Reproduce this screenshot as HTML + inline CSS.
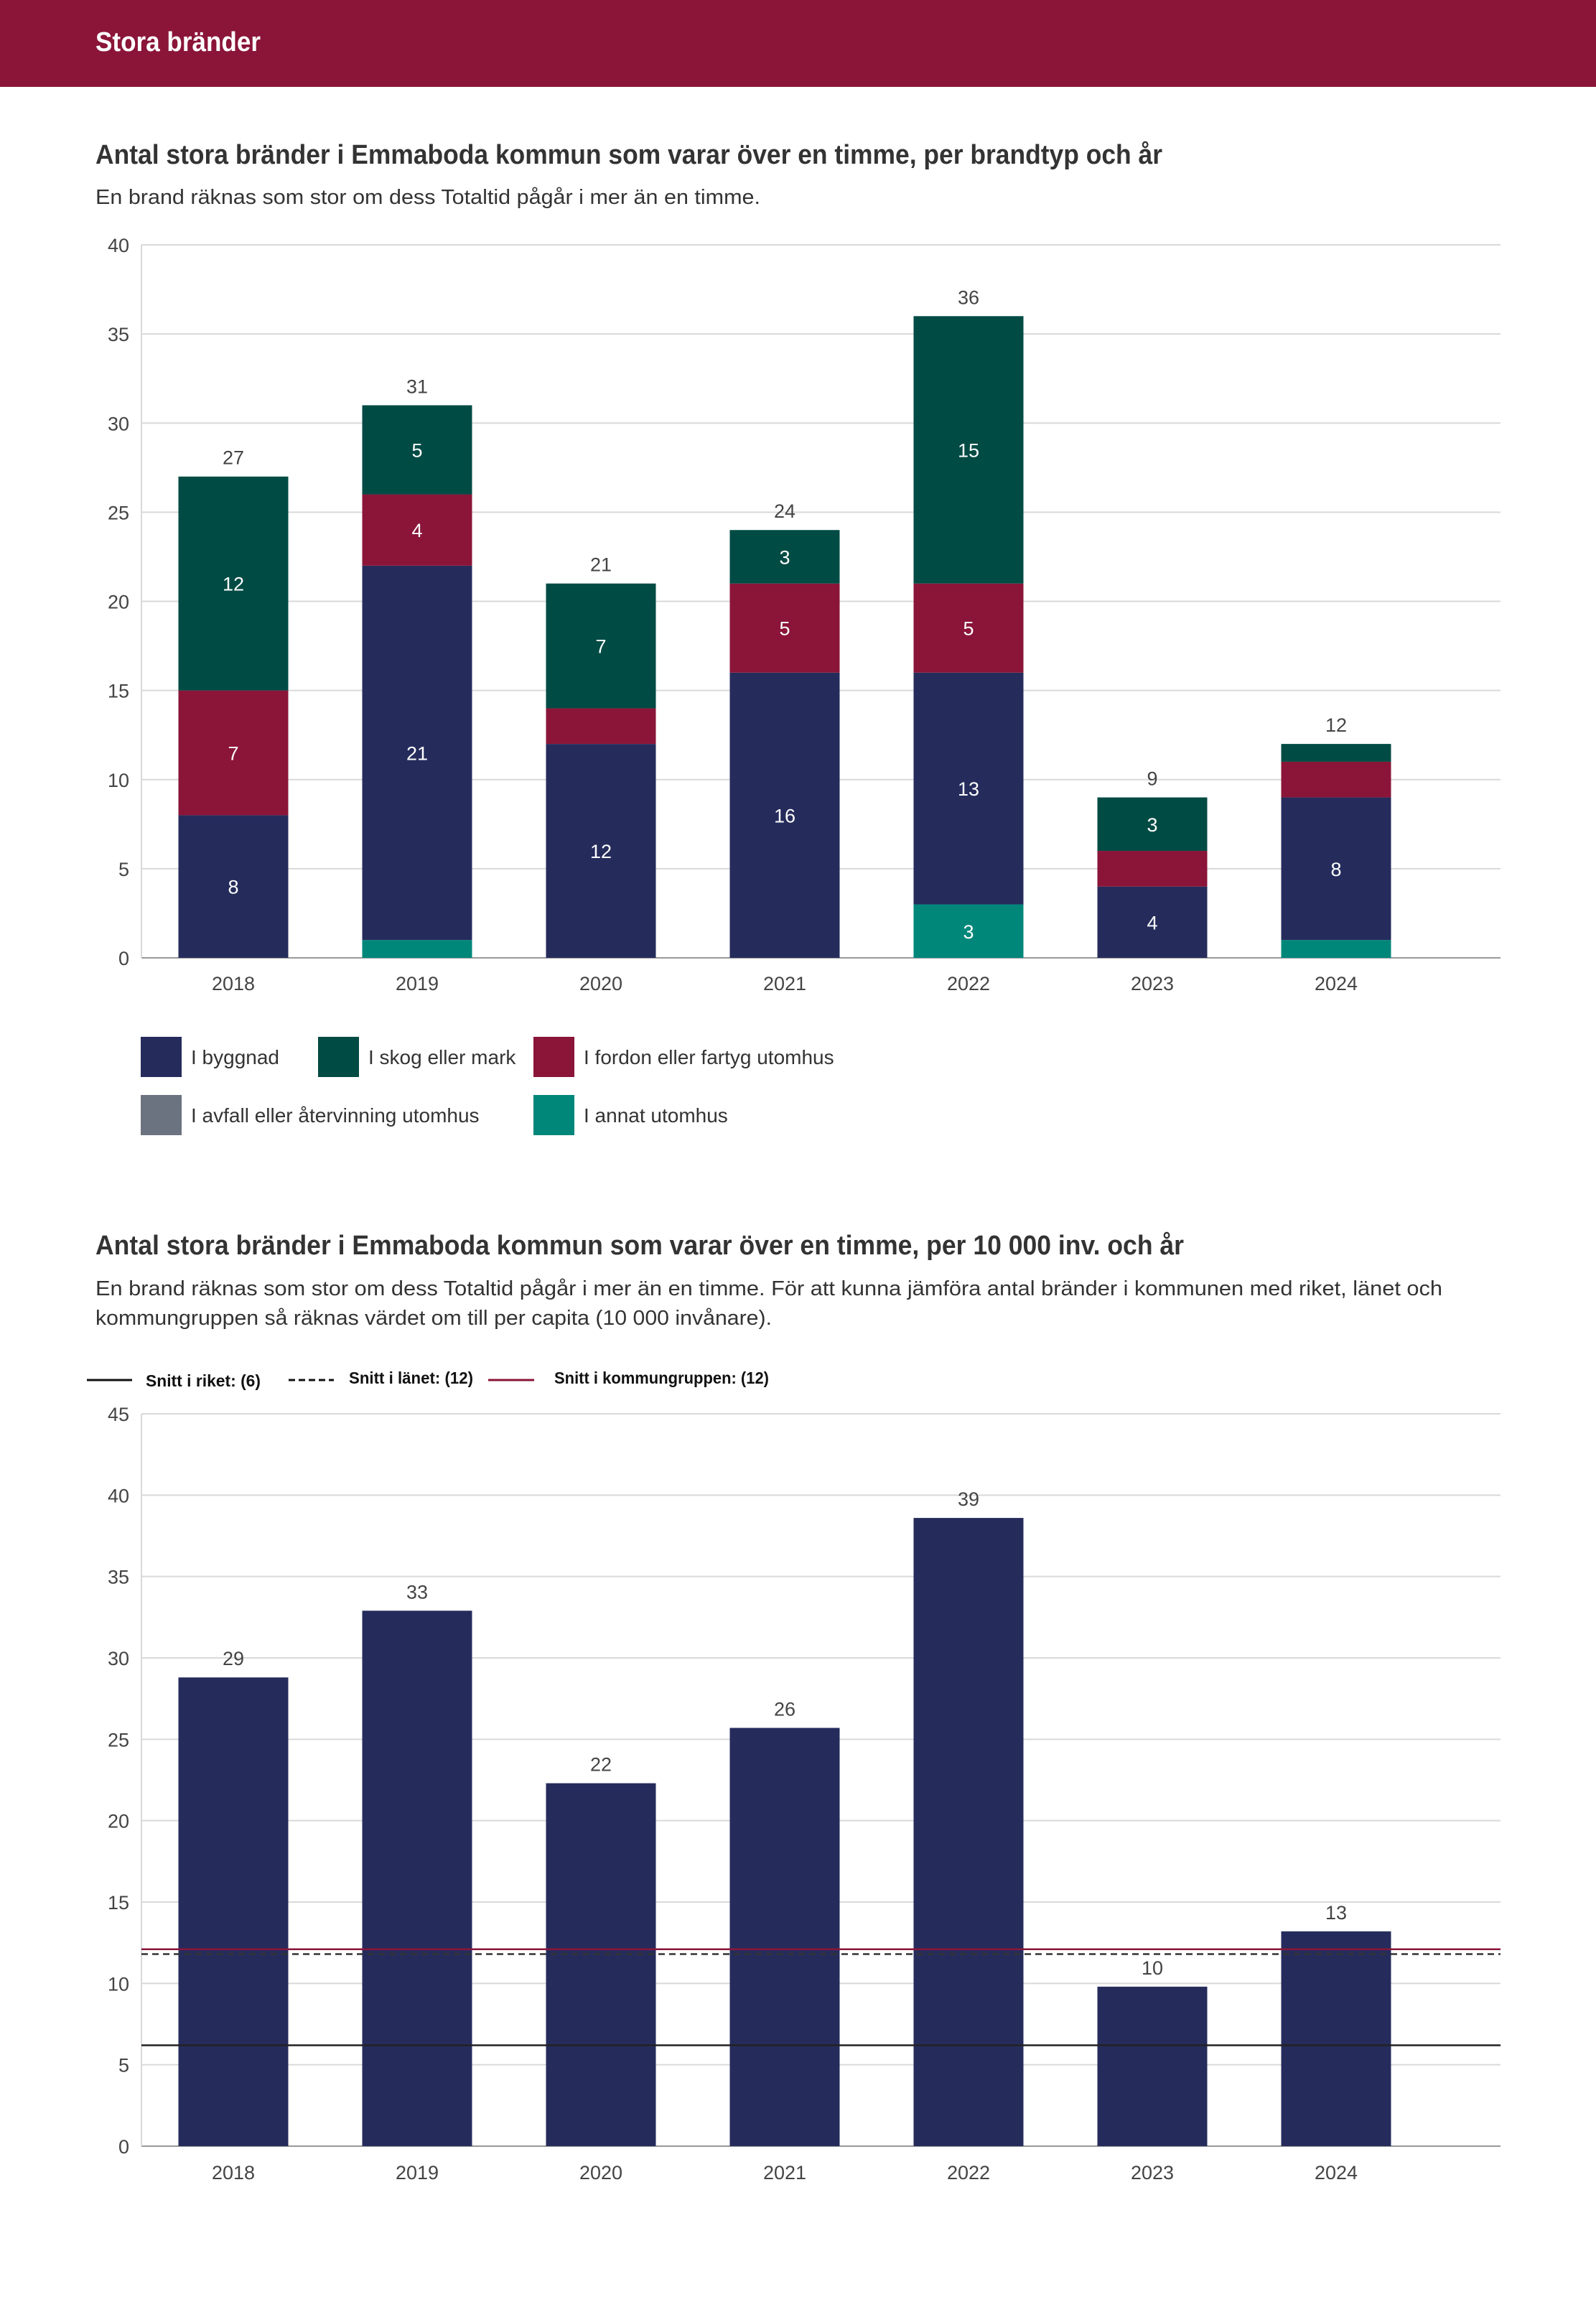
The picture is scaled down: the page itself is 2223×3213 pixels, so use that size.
<!DOCTYPE html>
<html><head><meta charset="utf-8">
<style>
html,body{margin:0;padding:0;background:#fff;}
svg{display:block;font-family:"Liberation Sans",sans-serif;}
</style></head>
<body>
<svg id="root" width="2223" height="3213" viewBox="0 0 2223 3213" xmlns="http://www.w3.org/2000/svg">
<rect x="0" y="0" width="2223" height="121" fill="#8a1538"/>
<text x="133" y="71" font-size="38" font-weight="bold" fill="#fff" textLength="230" lengthAdjust="spacingAndGlyphs">Stora bränder</text>

<text x="133" y="228" font-size="38" font-weight="bold" fill="#333" textLength="1486" lengthAdjust="spacingAndGlyphs">Antal stora bränder i Emmaboda kommun som varar över en timme, per brandtyp och år</text>
<text x="133" y="284" font-size="29" fill="#333" textLength="926" lengthAdjust="spacingAndGlyphs">En brand räknas som stor om dess Totaltid pågår i mer än en timme.</text>
<g id="chart1"></g>
<g id="legend1"></g>

<text x="133" y="1747" font-size="38" font-weight="bold" fill="#333" textLength="1516" lengthAdjust="spacingAndGlyphs">Antal stora bränder i Emmaboda kommun som varar över en timme, per 10 000 inv. och år</text>
<text x="133" y="1804" font-size="29" fill="#333" textLength="1876" lengthAdjust="spacingAndGlyphs">En brand räknas som stor om dess Totaltid pågår i mer än en timme. För att kunna jämföra antal bränder i kommunen med riket, länet och</text>
<text x="133" y="1845" font-size="29" fill="#333" textLength="942" lengthAdjust="spacingAndGlyphs">kommungruppen så räknas värdet om till per capita (10 000 invånare).</text>
<g id="legend2">
<line x1="121" y1="1922" x2="184" y2="1922" stroke="#111" stroke-width="3"/>
<text x="203" y="1931" font-size="23" font-weight="bold" fill="#111" textLength="160" lengthAdjust="spacingAndGlyphs">Snitt i riket: (6)</text>
<line x1="402" y1="1922" x2="465" y2="1922" stroke="#111" stroke-width="3" stroke-dasharray="9,5"/>
<text x="486" y="1927" font-size="23" font-weight="bold" fill="#111" textLength="173" lengthAdjust="spacingAndGlyphs">Snitt i länet: (12)</text>
<line x1="680" y1="1922" x2="744" y2="1922" stroke="#8a1538" stroke-width="3"/>
<text x="772" y="1927" font-size="23" font-weight="bold" fill="#111" textLength="299" lengthAdjust="spacingAndGlyphs">Snitt i kommungruppen: (12)</text>
</g>
<g id="chart2"></g>
</svg>
<script>
const NS="http://www.w3.org/2000/svg";
const years=["2018","2019","2020","2021","2022","2023","2024"];
const byggnad=[8,21,12,16,13,4,8];
const skog=[12,5,7,3,15,3,1];
const fordon=[7,4,2,5,5,2,2];
const avfall=[0,0,0,0,0,0,0];
const annat=[0,1,0,0,3,0,1];
const totals1=[27,31,21,24,36,9,12];
const ticks1=[0,5,10,15,20,25,30,35,40];
const perCapita=[28.8,32.9,22.3,25.7,38.6,9.8,13.2];
const perCapitaLabels=["29","33","22","26","39","10","13"];
const ticks2=[0,5,10,15,20,25,30,35,40,45];
const snittRiket=[6.2];
const snittLanet=[11.8];
const snittKommungrupp=[12.1];

function mk(tag,attrs,parent,text){const e=document.createElementNS(NS,tag);for(const k in attrs)e.setAttribute(k,attrs[k]);if(text!==undefined)e.textContent=text;parent.appendChild(e);return e;}

const plotL=197, plotR=2090, band=256, barW=153;
function xc(i){return plotL+band*i+band/2;}

// Chart 1
const c1=document.getElementById('chart1');
const y1=v=>1334-v*(1334-341)/40;
ticks1.forEach(t=>{
  const gl=mk('line',{x1:plotL,x2:plotR,y1:y1(t),y2:y1(t),stroke:t===0?'#999':'#d9d9d9','stroke-width':2},c1);
  
  
  const tl=mk('text',{x:180,y:y1(t)+10,'text-anchor':'end','font-size':27,fill:'#444'},c1,String(t));
  
  
});
const ax1=mk('line',{x1:plotL,x2:plotL,y1:341,y2:1334,stroke:'#d9d9d9','stroke-width':2},c1);


const series=[[annat,'#00877a','annat'],[byggnad,'#252c5c','byggnad'],[avfall,'#6b7280','avfall'],[fordon,'#8a1538','fordon'],[skog,'#004b44','skog']];
years.forEach((yr,i)=>{
  let base=0;
  series.forEach(([arr,col,nm])=>{
    const v=arr[i]; if(!v) return;
    const r=mk('rect',{x:xc(i)-barW/2,y:y1(base+v),width:barW,height:y1(base)-y1(base+v),fill:col},c1);
    
    
    if(v>=3){
      const t=mk('text',{x:xc(i),y:(y1(base)+y1(base+v))/2+10,'text-anchor':'middle','font-size':27,fill:'#fff'},c1,String(v));
      
      
    }
    base+=v;
  });
  const tt=mk('text',{x:xc(i),y:y1(base)-17,'text-anchor':'middle','font-size':27,fill:'#444'},c1,String(totals1[i]));
  
  
  const xl=mk('text',{x:xc(i),y:1379,'text-anchor':'middle','font-size':27,fill:'#444'},c1,yr);
  
  
});
// Legend 1
const lg=document.getElementById('legend1');
const legItems=[['I byggnad','#252c5c',196,1444,'legend-byggnad'],['I skog eller mark','#004b44',443,1444,'legend-skog'],['I fordon eller fartyg utomhus','#8a1538',743,1444,'legend-fordon'],['I avfall eller återvinning utomhus','#6b7280',196,1525,'legend-avfall'],['I annat utomhus','#00877a',743,1525,'legend-annat']];
legItems.forEach(([lab,col,x,y,nm])=>{
  const g=mk('g',{},lg);
  
  
  mk('rect',{x:x,y:y,width:57,height:56,fill:col},g);
  mk('text',{x:x+70,y:y+38,'font-size':28,fill:'#333'},g,lab);
});

// Chart 2
const c2=document.getElementById('chart2');
const y2=v=>2989-v*(2989-1969)/45;
ticks2.forEach(t=>{
  const gl=mk('line',{x1:plotL,x2:plotR,y1:y2(t),y2:y2(t),stroke:t===0?'#999':'#d9d9d9','stroke-width':2},c2);
  
  
  const tl=mk('text',{x:180,y:y2(t)+10,'text-anchor':'end','font-size':27,fill:'#444'},c2,String(t));
  
  
});
const ax2=mk('line',{x1:plotL,x2:plotL,y1:1969,y2:2989,stroke:'#d9d9d9','stroke-width':2},c2);


years.forEach((yr,i)=>{
  const v=perCapita[i];
  const r=mk('rect',{x:xc(i)-barW/2,y:y2(v),width:barW,height:y2(0)-y2(v),fill:'#252c5c'},c2);
  
  
  const t=mk('text',{x:xc(i),y:y2(v)-17,'text-anchor':'middle','font-size':27,fill:'#444'},c2,perCapitaLabels[i]);
  
  
  const xl=mk('text',{x:xc(i),y:3035,'text-anchor':'middle','font-size':27,fill:'#444'},c2,yr);
  
  
});
const l1=mk('line',{x1:plotL,x2:plotR,y1:y2(snittRiket[0]),y2:y2(snittRiket[0]),stroke:'#222','stroke-width':2.5},c2);


const l2=mk('line',{x1:plotL,x2:plotR,y1:y2(snittLanet[0]),y2:y2(snittLanet[0]),stroke:'#333','stroke-width':2.5,'stroke-dasharray':'9,6'},c2);


const l3=mk('line',{x1:plotL,x2:plotR,y1:y2(snittKommungrupp[0]),y2:y2(snittKommungrupp[0]),stroke:'#8a1538','stroke-width':2.5},c2);


</script>
</body></html>
